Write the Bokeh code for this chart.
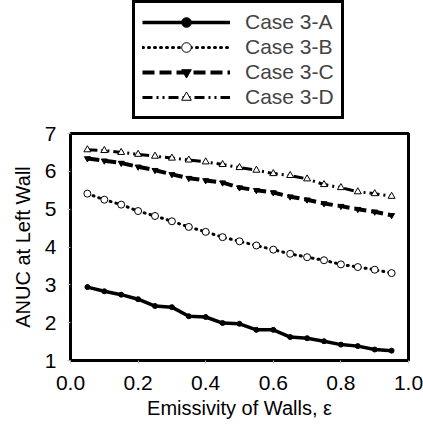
from bokeh.plotting import figure
from bokeh.layouts import column
from bokeh.models import Legend, LegendItem, FixedTicker, PrintfTickFormatter, Range1d
from bokeh.embed import file_html
from bokeh.resources import INLINE

emissivity = [0.05, 0.10, 0.15, 0.20, 0.25, 0.30, 0.35, 0.40, 0.45, 0.50,
              0.55, 0.60, 0.65, 0.70, 0.75, 0.80, 0.85, 0.90, 0.95]
case_3a = [2.94, 2.83, 2.74, 2.62, 2.44, 2.41, 2.17, 2.15, 1.99, 1.97,
           1.81, 1.81, 1.62, 1.59, 1.51, 1.42, 1.38, 1.29, 1.26]
case_3b = [5.41, 5.25, 5.12, 4.95, 4.82, 4.68, 4.53, 4.40, 4.26, 4.15,
           4.04, 3.93, 3.82, 3.73, 3.65, 3.54, 3.47, 3.40, 3.31]
case_3c = [6.34, 6.28, 6.22, 6.12, 6.03, 5.92, 5.82, 5.76, 5.70, 5.57,
           5.50, 5.44, 5.33, 5.25, 5.15, 5.08, 5.00, 4.93, 4.84]
case_3d = [6.57, 6.55, 6.50, 6.45, 6.40, 6.35, 6.30, 6.25, 6.18, 6.10,
           6.03, 5.94, 5.89, 5.80, 5.65, 5.57, 5.46, 5.41, 5.34]
series_names = ["Case 3-A", "Case 3-B", "Case 3-C", "Case 3-D"]
x_ticks = [0.0, 0.2, 0.4, 0.6, 0.8, 1.0]
y_ticks = [1, 2, 3, 4, 5, 6, 7]

FONT = "Liberation Sans"

series = [case_3a, case_3b, case_3c, case_3d]
line_styles = [
    dict(line_color="black", line_width=3.5),
    dict(line_color="black", line_width=3, line_dash="1 5", line_cap="round"),
    dict(line_color="black", line_width=4, line_dash="12 5"),
    dict(line_color="black", line_width=3, line_dash="10 4 2 4 2 4"),
]
marker_styles = [
    dict(marker="circle", size=5, fill_color="black", line_color="black"),
    dict(marker="circle", size=7, fill_color="white", line_color="black", line_width=1),
    dict(marker="inverted_triangle", size=6, fill_color="black", line_color="black"),
    dict(marker="triangle", size=7, fill_color="white", line_color="black", line_width=1),
]

TOP_H = 121

# ---- main plot ----
p = figure(width=423, height=430 - TOP_H, output_backend="svg", toolbar_location=None,
           x_range=Range1d(0, 1), y_range=Range1d(1, 7),
           min_border_left=70, min_border_right=15,
           min_border_top=12, min_border_bottom=70)
p.background_fill_color = "white"
p.border_fill_color = "white"
p.outline_line_color = "black"
p.outline_line_width = 3
p.xgrid.visible = False
p.ygrid.visible = False

for ax in (p.xaxis[0], p.yaxis[0]):
    ax.axis_line_color = None
    ax.major_tick_in = 0
    ax.major_tick_out = 3
    ax.major_tick_line_color = "#bbbbbb"
    ax.minor_tick_line_color = None
    ax.major_label_text_font = FONT
    ax.major_label_text_font_size = "21px"
    ax.major_label_text_color = "black"
    ax.axis_label_text_font = FONT
    ax.axis_label_text_font_size = "20px"
    ax.axis_label_text_font_style = "normal"
    ax.axis_label_text_color = "black"

p.xaxis.ticker = FixedTicker(ticks=x_ticks)
p.xaxis.formatter = PrintfTickFormatter(format="%.1f")
p.yaxis.ticker = FixedTicker(ticks=y_ticks)
p.xaxis.axis_label = "Emissivity of Walls, ε"
p.yaxis.axis_label = "ANUC at Left Wall"
p.xaxis.major_label_standoff = 12
p.xaxis.axis_label_standoff = 4
p.yaxis.major_label_standoff = 11
p.yaxis.axis_label_standoff = 8

for ys, ls, ms in zip(series, line_styles, marker_styles):
    p.line(emissivity, ys, **ls)
    p.scatter(emissivity, ys, **ms)

# ---- legend strip on top (same series, drawn outside its view) ----
lf = figure(width=423, height=TOP_H, output_backend="svg", toolbar_location=None,
            x_range=Range1d(0, 1), y_range=Range1d(100, 101),
            min_border_left=70, min_border_right=15, min_border_top=0, min_border_bottom=0)
lf.axis.visible = False
lf.grid.visible = False
lf.outline_line_color = None
lf.background_fill_color = "white"
lf.border_fill_color = "white"

items = []
for name, ys, ls, ms in zip(series_names, series, line_styles, marker_styles):
    l = lf.line(emissivity, ys, **ls)
    s = lf.scatter(emissivity, ys, **ms)
    items.append(LegendItem(label=name, renderers=[l, s]))

legend = Legend(items=items, location=(62, 2), orientation="vertical",
                border_line_color="black", border_line_width=3, border_line_alpha=1,
                background_fill_color="white", background_fill_alpha=1,
                label_text_font=FONT, label_text_font_size="21px",
                glyph_width=88, glyph_height=24, label_height=24,
                label_standoff=15, spacing=1, padding=7, margin=0)
lf.add_layout(legend, "center")

layout = column(lf, p, spacing=0)
open("out.html", "w").write(file_html(layout, INLINE))
